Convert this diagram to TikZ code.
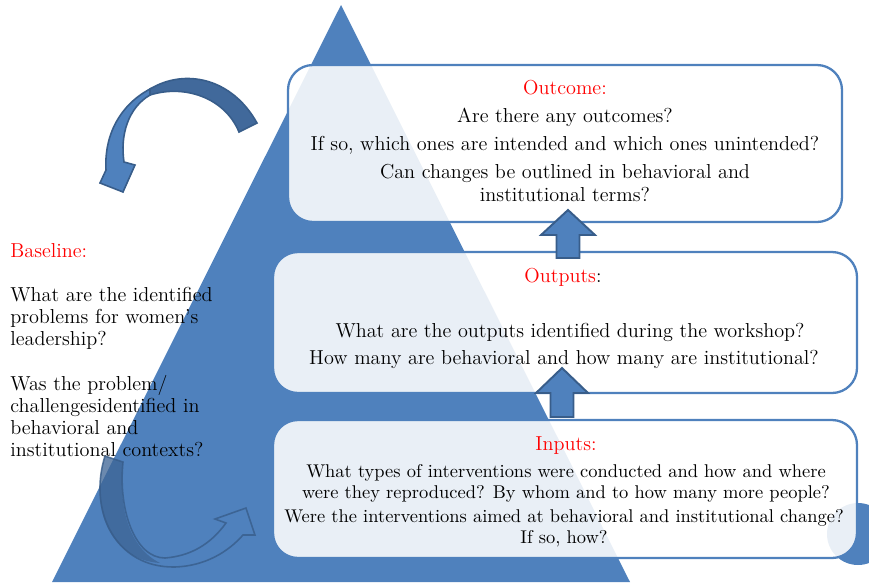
\documentclass[tikz,border=0pt]{standalone}
\usepackage{xcolor}
\usetikzlibrary{positioning}

\definecolor{pyrblue}{HTML}{4F81BD}
\definecolor{pyrline}{HTML}{385D8A}
\definecolor{pyrback}{HTML}{41699B}

\tikzset{
    qbox/.style={draw=pyrblue, line width=1.3pt, fill=white, fill opacity=0.88,
        text opacity=1, rounded corners=0.5cm},
    txt/.style={font=\fontsize{11.5}{12.6}\selectfont, inner sep=0pt, align=center},
    smalltxt/.style={txt, font=\fontsize{10.5}{11.9}\selectfont},
    ttl/.style={txt, text=red},
    blockarrow/.style={fill=pyrblue, draw=pyrline, line width=1.1pt, line join=miter},
    turnarrow/.style={fill=pyrblue, draw=pyrline, line width=0.9pt},
}

\begin{document}
\begin{tikzpicture}[x=0.02cm, y=-0.02cm]
    \useasboundingbox (0,0) rectangle (869,582);
    \clip (0,0) rectangle (869,582);

    % pyramid and the disc at the lower right
    \fill[pyrblue] (341,5) -- (52,582) -- (630,582) -- cycle;
    \fill[pyrblue] (858,534) circle (31);

    % turning arrow, top left
    \draw[turnarrow, fill=pyrback] (239,132) -- (257,123)
        .. controls (232,78) and (185,68) .. (150,89) -- (150,95)
        .. controls (185,84) and (225,98) .. (239,132) -- cycle;
    \draw[turnarrow] (150,89) .. controls (120,105) and (104,135) .. (106,170)
        -- (100,183) -- (123,192) -- (135,165) -- (124,162)
        .. controls (120,135) and (128,108) .. (150,95) -- cycle;

    % turning arrow, bottom left
    \draw[draw=pyrline, line width=0.9pt, draw opacity=0.8, fill=pyrblue, fill opacity=0.4]
        (105,456) .. controls (88,510) and (115,568) .. (175,567)
        .. controls (205,566) and (228,552) .. (243,535) -- (255,535) -- (246,508)
        -- (215,519) -- (226,523) .. controls (210,545) and (190,556) .. (165,558)
        .. controls (135,558) and (118,510) .. (123,462) -- cycle;
    \fill[pyrline, opacity=0.6]
        (105,456) .. controls (88,510) and (112,560) .. (160,563)
        .. controls (130,548) and (118,510) .. (123,462) -- cycle;

    % question boxes
    \node[qbox, minimum width=554*0.02cm, minimum height=157*0.02cm] (outcome) at (565,143.5) {};
    \node[qbox, minimum width=584*0.02cm, minimum height=141*0.02cm] (outputs) at (565,322.5) {};
    \node[qbox, minimum width=584*0.02cm, minimum height=138*0.02cm] (inputs) at (565,489) {};

    % arrows between the boxes
    \coordinate (tipA) at (568,210);
    \coordinate (tipB) at (562,368);
    \draw[blockarrow] (tipA) -- ++(27,25) -- ++(-15.5,0) -- ++(0,23) -- ++(-23,0)
        -- ++(0,-23) -- ++(-15.5,0) -- cycle;
    \draw[blockarrow] (tipB) -- ++(26,25) -- ++(-14.5,0) -- ++(0,24) -- ++(-23,0)
        -- ++(0,-24) -- ++(-14.5,0) -- cycle;

    % outcome
    \node[ttl] (outcomeT) at (565,88) {Outcome:};
    \node[txt] (outcomeA) at (565,117) {Are there any outcomes?};
    \node[txt] (outcomeB) at (565,145) {If so, which ones are intended and which ones unintended?};
    \node[txt] (outcomeC) at (565,183) {Can changes be outlined in behavioral and\\institutional terms?};

    % outputs
    \node[txt] (outputsT) at (563,277) {\textcolor{red}{Outputs}:};
    \node[txt] (outputsA) at (570,332) {What are the outputs identified during the workshop?};
    \node[txt] (outputsB) at (564,359) {How many are behavioral and how many are institutional?};

    % inputs
    \node[ttl] (inputsT) at (566,446) {Inputs:};
    \node[smalltxt] (inputsA) at (566,483) {What types of interventions were conducted and how and where\\were they reproduced? By whom and to how many more people?};
    \node[smalltxt] (inputsB) at (564,528) {Were the interventions aimed at behavioral and institutional change?\\If so, how?};

    % baseline
    \node[txt, align=left, anchor=north west] (baseline) at (10,243)
        {\textcolor{red}{Baseline:}\\[12.6pt]
         What are the identified\\problems for women's\\leadership?\\[12.6pt]
         Was the problem/\\challengesidentified in\\behavioral and\\institutional contexts?};
\end{tikzpicture}
\end{document}
